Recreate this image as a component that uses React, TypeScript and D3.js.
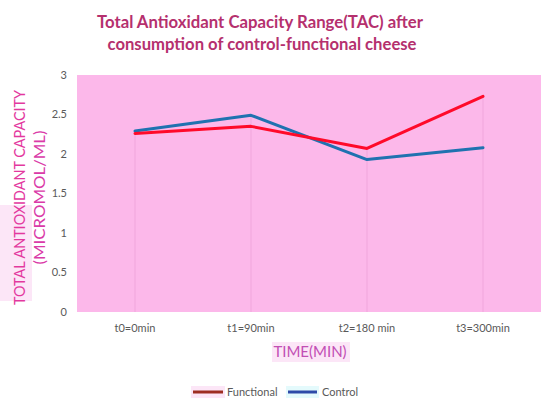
import * as d3 from "d3";

const categories = ["t0=0min", "t1=90min", "t2=180 min", "t3=300min"];
const functional = [2.26, 2.35, 2.07, 2.73];
const control = [2.29, 2.49, 1.93, 2.08];
const yTicks = [0, 0.5, 1, 1.5, 2, 2.5, 3];

const W = 550;
const H = 408;
const plot = { left: 77, right: 541, top: 75, bottom: 312 };
const font = "Lato, 'Open Sans', sans-serif";

export default function App() {
  const x = d3
    .scalePoint<string>()
    .domain(categories)
    .range([plot.left, plot.right])
    .padding(0.5);
  const y = d3.scaleLinear().domain([0, 3]).range([plot.bottom, plot.top]);

  const line = d3
    .line<number>()
    .x((_, i) => x(categories[i])!)
    .y((d) => y(d));

  const yMid = (plot.top + plot.bottom) / 2 + 4;

  return (
    <svg
      width={W}
      height={H}
      style={{ position: "absolute", left: 0, top: 0, background: "#fff" }}
    >
      <defs>
        <linearGradient id="ytitle" gradientUnits="userSpaceOnUse" x1="0" y1="300" x2="0" y2="85">
          <stop offset="0" stopColor="#9C4FC0" />
          <stop offset="0.45" stopColor="#B448B8" />
          <stop offset="0.55" stopColor="#DA3AA6" />
          <stop offset="1" stopColor="#E2389E" />
        </linearGradient>
      </defs>

      {/* title */}
      <text
        x={260}
        y={28}
        textAnchor="middle"
        fontFamily={font}
        fontWeight="bold"
        fontSize={16.5}
        fill="#B5306E"
        textLength={326}
        lengthAdjust="spacingAndGlyphs"
      >
        Total Antioxidant Capacity Range(TAC) after
      </text>
      <text
        x={262}
        y={50}
        textAnchor="middle"
        fontFamily={font}
        fontWeight="bold"
        fontSize={16.5}
        fill="#B5306E"
        textLength={309}
        lengthAdjust="spacingAndGlyphs"
      >
        consumption of control-functional cheese
      </text>

      {/* plot area */}
      <rect
        x={plot.left}
        y={plot.top}
        width={plot.right - plot.left}
        height={plot.bottom - plot.top}
        fill="#FCB8EA"
      />

      {/* drop lines */}
      {categories.map((c, i) => (
        <line
          key={c}
          x1={x(c)!}
          x2={x(c)!}
          y1={y(Math.max(functional[i], control[i]))}
          y2={plot.bottom}
          stroke="#F0A6DC"
          strokeWidth={1}
        />
      ))}

      {/* y ticks */}
      {yTicks.map((t) => (
        <text
          key={t}
          x={67}
          y={y(t)}
          dy="0.35em"
          textAnchor="end"
          fontFamily={font}
          fontSize={11}
          fill="#595959"
        >
          {t}
        </text>
      ))}

      {/* x ticks */}
      {categories.map((c) => (
        <text
          key={c}
          x={x(c)!}
          y={328}
          dy="0.35em"
          textAnchor="middle"
          fontFamily={font}
          fontSize={11}
          fill="#595959"
        >
          {c}
        </text>
      ))}

      {/* series */}
      <path d={line(control)!} fill="none" stroke="#1F72B0" strokeWidth={3} strokeLinejoin="round" strokeLinecap="round" />
      <path d={line(functional)!} fill="none" stroke="#FF0A2A" strokeWidth={3} strokeLinejoin="round" strokeLinecap="round" />

      {/* y axis title */}
      <rect x={0} y={205} width={32} height={96} fill="#FCE6F7" />
      <text
        transform={`translate(20, ${yMid}) rotate(-90)`}
        textAnchor="middle"
        dy="0.35em"
        fontFamily={font}
        fontSize={15}
        fill="url(#ytitle)"
        textLength={215}
        lengthAdjust="spacingAndGlyphs"
      >
        TOTAL ANTIOXIDANT CAPACITY
      </text>
      <text
        transform={`translate(40, ${yMid}) rotate(-90)`}
        textAnchor="middle"
        dy="0.35em"
        fontFamily={font}
        fontSize={15}
        fill="#DA3AA8"
        textLength={134}
        lengthAdjust="spacingAndGlyphs"
      >
        (MICROMOL/ML)
      </text>

      {/* x axis title */}
      <rect x={272} y={342} width={78} height={20} fill="#FCE6F7" />
      <text
        x={310}
        y={352}
        dy="0.35em"
        textAnchor="middle"
        fontFamily={font}
        fontSize={15}
        fill="#C24FB4"
      >
        TIME(MIN)
      </text>

      {/* legend */}
      <g fontFamily={font} fontSize={11} fill="#595959">
        <rect x={191} y={386} width={34} height={12} fill="#FCE6F7" />
        <line x1={193} x2={223} y1={392} y2={392} stroke="#9E2E22" strokeWidth={3} />
        <text x={227} y={392} dy="0.35em">Functional</text>
        <rect x={286} y={386} width={33} height={12} fill="#E4FAFC" />
        <line x1={288} x2={317} y1={392} y2={392} stroke="#2E4AA8" strokeWidth={3} />
        <text x={322} y={392} dy="0.35em">Control</text>
      </g>
    </svg>
  );
}
